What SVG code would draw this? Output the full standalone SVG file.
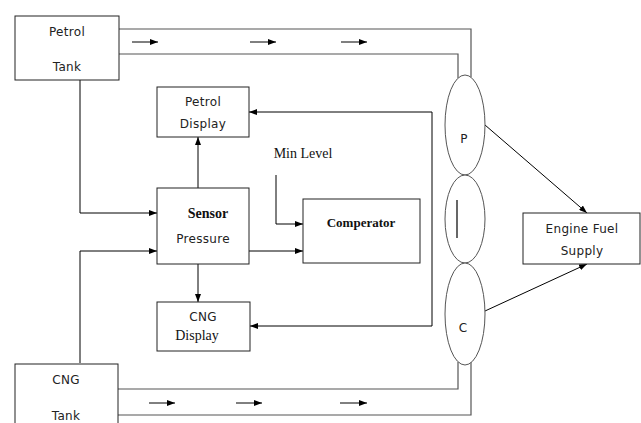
<svg xmlns="http://www.w3.org/2000/svg" width="641" height="423" viewBox="0 0 641 423">
<defs>
<marker id="ah" markerWidth="8" markerHeight="6" refX="8" refY="3" orient="auto" markerUnits="userSpaceOnUse">
<path d="M0,0 L8,3 L0,6 Z" fill="#000"/>
</marker>
<style>
.box{fill:#fff;stroke:#222;stroke-width:1}
.ell{fill:#fff;stroke:#555;stroke-width:1}
.ln{fill:none;stroke:#333;stroke-width:1}
.pipe{fill:none;stroke:#555;stroke-width:1.2}
.ar{fill:none;stroke:#000;stroke-width:1;marker-end:url(#ah)}
.s{font-family:"DejaVu Sans","Liberation Sans",sans-serif;font-size:12px;fill:#222;text-anchor:middle;letter-spacing:0.3px}
.r{font-family:"Liberation Serif","Times New Roman",serif;font-size:14px;fill:#111;text-anchor:middle}
.b{font-weight:bold}
</style>
</defs>
<rect width="641" height="423" fill="#fff"/>
<g id="connectors">
<polyline class="pipe" points="119,29 471,29 471,77"/>
<polyline class="pipe" points="119,54 458,54 458,78"/>
<polyline class="pipe" points="118,389 458,389 458,362"/>
<polyline class="pipe" points="118,415 471,415 471,362"/>
<line class="ar" x1="132" y1="42" x2="158" y2="42"/>
<line class="ar" x1="250" y1="42" x2="276" y2="42"/>
<line class="ar" x1="341" y1="42" x2="367" y2="42"/>
<line class="ar" x1="149" y1="403" x2="175" y2="403"/>
<line class="ar" x1="236" y1="403" x2="262" y2="403"/>
<line class="ar" x1="340" y1="403" x2="367" y2="403"/>
<polyline class="ar" points="80,76 80,213 157,213"/>
<polyline class="ar" points="80,363 80,251 157,251"/>
<line class="ar" x1="198" y1="188" x2="198" y2="137"/>
<line class="ar" x1="198" y1="264" x2="198" y2="302"/>
<line class="ar" x1="249" y1="251" x2="303" y2="251"/>
<polyline class="ar" points="276,175 276,224 303,224"/>
<polyline class="ar" points="432,326 250,326"/>
<polyline class="ar" points="432,326 432,112 249,112"/>
<line class="ar" x1="485" y1="125" x2="587" y2="213"/>
<line class="ar" x1="485" y1="311" x2="587" y2="264"/>
</g>
<g id="petrol-tank">
<rect class="box" x="15" y="16" width="104" height="64"/>
<text class="s" x="67" y="36">Petrol</text>
<text class="s" x="67" y="71">Tank</text>
</g>
<g id="cng-tank">
<rect class="box" x="15" y="364" width="103" height="70"/>
<text class="s" x="66" y="384">CNG</text>
<text class="s" x="66" y="420">Tank</text>
</g>
<g id="petrol-display">
<rect class="box" x="157" y="87" width="92" height="50"/>
<text class="s" x="203" y="106">Petrol</text>
<text class="s" x="203" y="128">Display</text>
</g>
<g id="sensor-pressure">
<rect class="box" x="157" y="188" width="92" height="76"/>
<text class="r b" x="208" y="218">Sensor</text>
<text class="s" x="203" y="243">Pressure</text>
</g>
<g id="min-level">
<text class="r" x="303" y="158">Min Level</text>
</g>
<g id="comperator">
<rect class="box" x="303" y="199" width="117" height="64"/>
<text class="r b" x="361" y="227" style="font-size:13px">Comperator</text>
</g>
<g id="cng-display">
<rect class="box" x="157" y="302" width="93" height="49"/>
<text class="s" x="203" y="321">CNG</text>
<text class="r" x="197" y="340">Display</text>
</g>
<g id="valve-p">
<ellipse class="ell" cx="465" cy="125" rx="20" ry="50"/>
<text class="s" x="464" y="143">P</text>
</g>
<g id="valve-mid">
<ellipse class="ell" cx="465" cy="219" rx="20" ry="44"/>
<line x1="457" y1="200" x2="457" y2="238" stroke="#000" stroke-width="1.2"/>
</g>
<g id="valve-c">
<ellipse class="ell" cx="465" cy="314" rx="20" ry="51"/>
<text class="s" x="463" y="332">C</text>
</g>
<g id="engine-fuel-supply">
<rect class="box" x="523" y="213" width="117" height="51"/>
<text class="s" x="582" y="233">Engine Fuel</text>
<text class="s" x="582" y="255">Supply</text>
</g>
</svg>
